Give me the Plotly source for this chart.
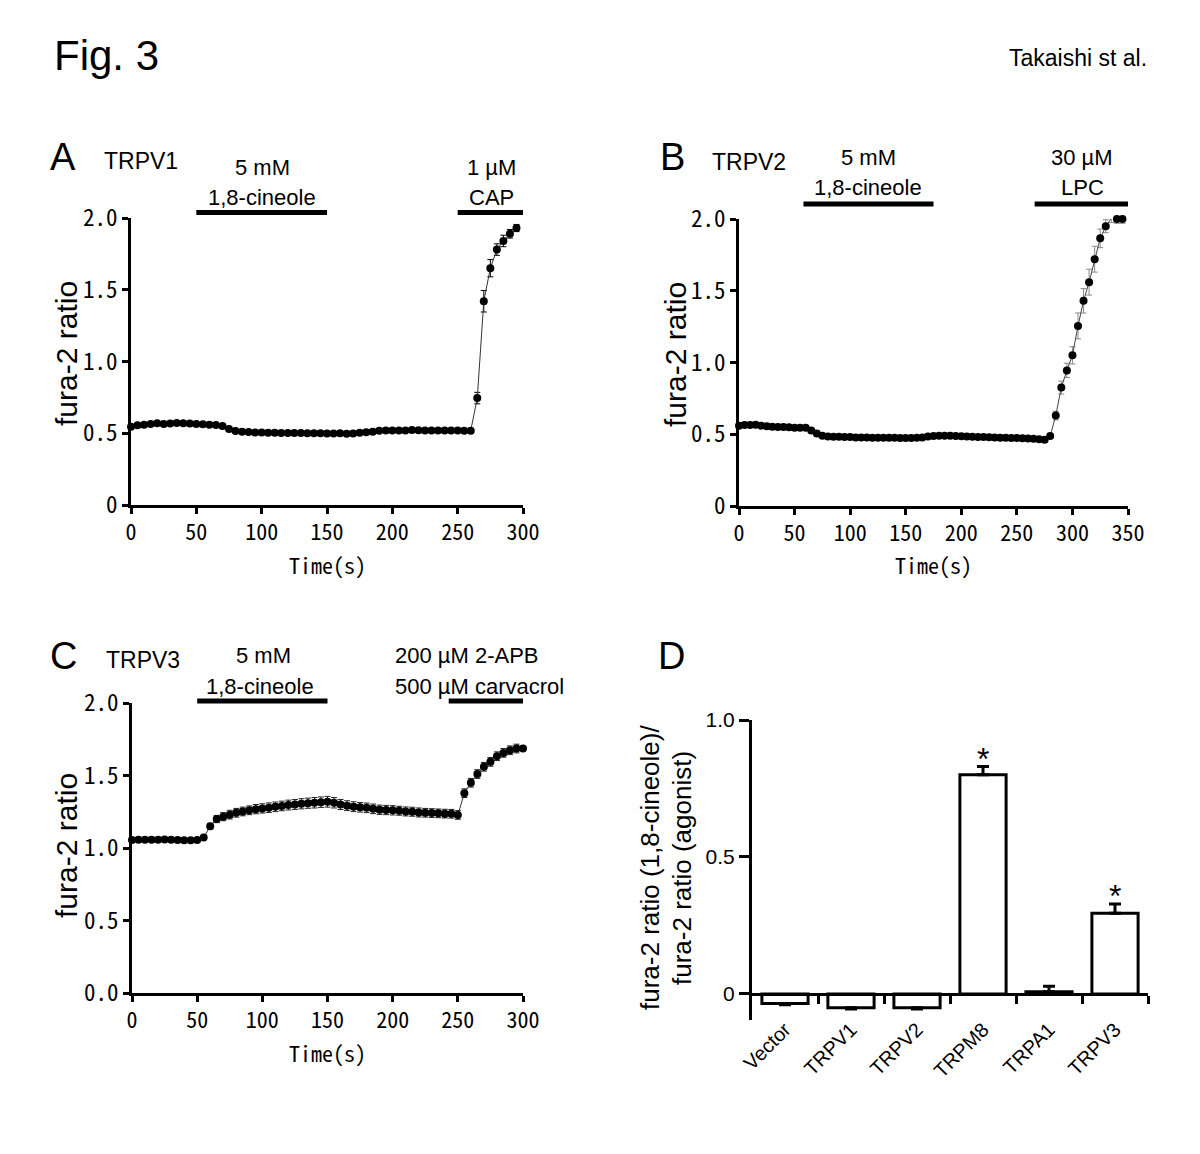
import plotly.graph_objects as go

# ---------------- data ----------------
# Panel A: TRPV1
time_A = [0, 5, 10, 15, 20, 25, 30, 35, 40, 45, 50, 55, 60, 65, 70, 75, 80, 85, 90, 95,
          100, 105, 110, 115, 120, 125, 130, 135, 140, 145, 150, 155, 160, 165, 170, 175, 180, 185, 190, 195,
          200, 205, 210, 215, 220, 225, 230, 235, 240, 245, 250, 255, 260, 265, 270, 275, 280, 285, 290, 295]
ratio_A = [0.545, 0.555, 0.56, 0.565, 0.57, 0.565, 0.568, 0.572, 0.57, 0.568, 0.565, 0.562, 0.56, 0.558, 0.55,
           0.53, 0.515, 0.51, 0.508, 0.506, 0.505, 0.504, 0.503, 0.502, 0.502, 0.502, 0.501, 0.5, 0.5, 0.5,
           0.499, 0.498, 0.5, 0.497, 0.498, 0.503, 0.507, 0.51, 0.517, 0.52, 0.52, 0.52, 0.52, 0.522, 0.521,
           0.52, 0.52, 0.52, 0.52, 0.52, 0.52, 0.518, 0.518, 0.745, 1.42, 1.65, 1.78, 1.84, 1.89, 1.93]
sem_A = [0.005] * 53 + [0.04, 0.075, 0.06, 0.04, 0.04, 0.03, 0.025]

# Panel B: TRPV2
time_B = [0, 5, 10, 15, 20, 25, 30, 35, 40, 45, 50, 55, 60, 65, 70, 75, 80, 85, 90, 95,
          100, 105, 110, 115, 120, 125, 130, 135, 140, 145, 150, 155, 160, 165, 170, 175, 180, 185, 190, 195,
          200, 205, 210, 215, 220, 225, 230, 235, 240, 245, 250, 255, 260, 265, 270, 275, 280, 285, 290, 295,
          300, 305, 310, 315, 320, 325, 330, 335, 340, 345]
ratio_B = [0.56, 0.565, 0.565, 0.567, 0.56, 0.555, 0.553, 0.55, 0.55, 0.548, 0.545, 0.545, 0.545, 0.527, 0.505,
           0.49, 0.484, 0.482, 0.482, 0.481, 0.48, 0.478, 0.478, 0.477, 0.476, 0.476, 0.475, 0.475, 0.475, 0.474,
           0.474, 0.474, 0.475, 0.478, 0.484, 0.488, 0.49, 0.49, 0.49, 0.488, 0.486, 0.484, 0.482, 0.481, 0.48,
           0.479, 0.478, 0.476, 0.475, 0.474, 0.473, 0.472, 0.47, 0.468, 0.465, 0.462, 0.488, 0.63, 0.825, 0.945,
           1.05, 1.255, 1.43, 1.56, 1.72, 1.865, 1.95, 2.005, 2.0, 2.0]
sem_B = [0.005] * 57 + [0.03, 0.045, 0.05, 0.06, 0.09, 0.085, 0.09, 0.09, 0.065, 0.045, 0.03, 0.03, 0.03]

# Panel C: TRPV3
time_C = [0, 5, 10, 15, 20, 25, 30, 35, 40, 45, 50, 55, 60, 65, 70, 75, 80, 85, 90, 95,
          100, 105, 110, 115, 120, 125, 130, 135, 140, 145, 150, 155, 160, 165, 170, 175, 180, 185, 190, 195,
          200, 205, 210, 215, 220, 225, 230, 235, 240, 245, 250, 255, 260, 265, 270, 275, 280, 285, 290, 295, 300]
ratio_C = [1.055, 1.057, 1.057, 1.057, 1.057, 1.058, 1.057, 1.055, 1.054, 1.054, 1.055, 1.072, 1.15, 1.2, 1.216,
           1.23, 1.243, 1.252, 1.26, 1.268, 1.273, 1.278, 1.284, 1.29, 1.296, 1.3, 1.305, 1.309, 1.312, 1.316,
           1.319, 1.312, 1.3, 1.292, 1.285, 1.281, 1.277, 1.27, 1.264, 1.262, 1.26, 1.257, 1.252, 1.25, 1.245,
           1.243, 1.241, 1.239, 1.237, 1.236, 1.228, 1.378, 1.45, 1.51, 1.56, 1.594, 1.633, 1.656, 1.674, 1.686, 1.686]
sem_C = [0.005] * 11 + [0.01, 0.02, 0.025, 0.028, 0.03, 0.03, 0.03, 0.03, 0.032, 0.032, 0.033, 0.033, 0.033,
                        0.034, 0.034, 0.035, 0.035, 0.036, 0.036, 0.037, 0.036, 0.035, 0.034, 0.034, 0.033,
                        0.033, 0.033, 0.032, 0.032, 0.032, 0.031, 0.031, 0.031, 0.031, 0.03, 0.03, 0.03, 0.03,
                        0.03, 0.03, 0.03, 0.03, 0.03, 0.03, 0.03, 0.03, 0.03, 0.03, 0.03]

# Application periods (s)
apply_A = [(50, 150), (250, 300)]
apply_B = [(58, 175), (266, 350)]
apply_C = [(50, 150), (243, 300)]

# Panel D
channels = ["Vector", "TRPV1", "TRPV2", "TRPM8", "TRPA1", "TRPV3"]
ratio_D = [-0.035, -0.05, -0.05, 0.80, 0.008, 0.295]
sem_D = [0.004, 0.005, 0.005, 0.03, 0.02, 0.033]
signif_D = ["", "", "", "*", "", "*"]

# ---------------- layout helpers ----------------
W, H = 1200, 1154
SANS = "Liberation Sans, Arial, sans-serif"
MONO = "Noto Sans Mono CJK JP, DejaVu Sans Mono, monospace"


def fx(p):
    return p / W


def fy(p):
    return 1 - p / H


fig = go.Figure()

panels = [
    (time_A, ratio_A, sem_A, "x", "y", "black", "#333"),
    (time_B, ratio_B, sem_B, "x2", "y2", "#888888", "#444"),
    (time_C, ratio_C, sem_C, "x3", "y3", "#222222", "#333"),
]
for t, v, e, xa, ya, ecol, lcol in panels:
    fig.add_trace(go.Scatter(
        x=t, y=v, mode="lines+markers", xaxis=xa, yaxis=ya,
        line=dict(color=lcol, width=1),
        marker=dict(color="black", size=8),
        error_y=dict(type="data", array=e, color=ecol, thickness=1, width=3),
        cliponaxis=False, showlegend=False, hoverinfo="x+y"))

err_plus = [s if v >= 0 else 0 for v, s in zip(ratio_D, sem_D)]
err_minus = [0 if v >= 0 else s for v, s in zip(ratio_D, sem_D)]
fig.add_trace(go.Bar(
    x=list(range(len(channels))), y=ratio_D, width=0.7, xaxis="x4", yaxis="y4",
    marker=dict(color="white", line=dict(color="black", width=3)),
    error_y=dict(type="data", array=err_plus, arrayminus=err_minus, color="black", thickness=3, width=6),
    showlegend=False, cliponaxis=False))


def xax(dom, rng, tv, anchor):
    return dict(domain=[fx(dom[0]), fx(dom[1])], range=rng, anchor=anchor, automargin=False,
                showline=True, linecolor="black", linewidth=3, mirror=False,
                ticks="outside", ticklen=6, tickwidth=3, tickcolor="black",
                tickvals=tv, tickfont=dict(family=MONO, size=22, color="black"),
                showgrid=False, zeroline=False, fixedrange=True)


def yax(dom, rng, tv, tt, anchor):
    return dict(domain=[fy(dom[1]), fy(dom[0])], range=rng, anchor=anchor, automargin=False,
                showline=True, linecolor="black", linewidth=3,
                ticks="outside", ticklen=6, tickwidth=3, tickcolor="black",
                tickvals=tv, ticktext=tt, tickfont=dict(family=MONO, size=23, color="black"),
                showgrid=False, zeroline=False, fixedrange=True)


yt = [0, 0.5, 1.0, 1.5, 2.0]
fig.update_layout(
    xaxis=xax((131, 523), [0, 300], [0, 50, 100, 150, 200, 250, 300], "y"),
    yaxis=yax((218, 505), [0, 2], yt, ["0", "0.5", "1.0", "1.5", "2.0"], "x"),
    xaxis2=xax((739, 1128), [0, 350], [0, 50, 100, 150, 200, 250, 300, 350], "y2"),
    yaxis2=yax((219, 506), [0, 2], yt, ["0", "0.5", "1.0", "1.5", "2.0"], "x2"),
    xaxis3=xax((132, 523), [0, 300], [0, 50, 100, 150, 200, 250, 300], "y3"),
    yaxis3=yax((703, 993), [0, 2], yt, ["0.0", "0.5", "1.0", "1.5", "2.0"], "x3"),
)

# Panel D axes
d_ymin, d_ymax = -0.095, 1.0
d_top, d_bot = 720, 1020
zero_pos = fy(d_bot) + (0 - d_ymin) / (d_ymax - d_ymin) * (fy(d_top) - fy(d_bot))
fig.update_layout(
    xaxis4=dict(domain=[fx(752), fx(1148)], range=[-0.5, len(channels) - 0.5],
                anchor="free", position=zero_pos, automargin=False,
                showline=True, linecolor="black", linewidth=3,
                tickmode="array", tickvals=list(range(len(channels))), ticktext=channels,
                ticks="", tickangle=-45, ticklabelstandoff=14,
                tickfont=dict(family=SANS, size=20, color="black"),
                minor=dict(tickmode="array", tickvals=[i + 0.5 for i in range(len(channels))],
                           ticks="outside", ticklen=8, tickwidth=3, tickcolor="black", showgrid=False),
                showgrid=False, zeroline=False, fixedrange=True),
    yaxis4=dict(domain=[fy(d_bot), fy(d_top)], range=[d_ymin, d_ymax], anchor="x4", automargin=False,
                showline=True, linecolor="black", linewidth=3,
                ticks="outside", ticklen=10, tickwidth=3, tickcolor="black",
                tickvals=[0, 0.5, 1.0], ticktext=["0", "0.5", "1.0"],
                tickfont=dict(family=SANS, size=21, color="black"),
                showgrid=False, zeroline=False, fixedrange=True),
)

# application bars
shapes = []
for periods, xr, ypx in [(apply_A, "x", 212.5), (apply_B, "x2", 204), (apply_C, "x3", 701)]:
    for a, b in periods:
        shapes.append(dict(type="line", xref=xr, yref="paper", x0=a, x1=b, y0=fy(ypx), y1=fy(ypx),
                           line=dict(color="black", width=5)))
fig.update_layout(shapes=shapes)

ann = []


def txt(x, y, s, size, family=SANS, xanchor="center", angle=0):
    ann.append(dict(x=fx(x), y=fy(y), xref="paper", yref="paper", text=s, showarrow=False,
                    xanchor=xanchor, yanchor="middle", textangle=angle,
                    font=dict(family=family, size=size, color="black")))


txt(52, 55, "Fig. 3", 42, xanchor="left")
txt(1149, 58, "Takaishi st al.", 23, xanchor="right")

# Panel letters and channel names
txt(63, 157, "A", 38)
txt(141, 161, "TRPV1", 23)
txt(672, 157, "B", 38)
txt(749, 162, "TRPV2", 23)
txt(63, 656, "C", 38)
txt(143, 660, "TRPV3", 23)
txt(671, 656, "D", 38)

# Drug labels
txt(262, 167, "5 mM", 22)
txt(262, 197, "1,8-cineole", 22)
txt(491, 167, "1 µM", 22)
txt(491, 197, "CAP", 22)
txt(868, 158, "5 mM", 22)
txt(868, 188, "1,8-cineole", 22)
txt(1082, 158, "30 µM", 22)
txt(1082, 188, "LPC", 22)
txt(263, 655, "5 mM", 22)
txt(260, 686, "1,8-cineole", 22)
txt(393, 655, "200 µM 2-APB", 22, xanchor="left")
txt(393, 686, "500 µM carvacrol", 22, xanchor="left")

# Axis titles
txt(66, 354, "fura-2 ratio", 30, angle=-90)
txt(675, 355, "fura-2 ratio", 30, angle=-90)
txt(66, 846, "fura-2 ratio", 30, angle=-90)
txt(650, 868, "fura-2 ratio (1,8-cineole)/", 26, angle=-90)
txt(682, 868, "fura-2 ratio (agonist)", 26, angle=-90)
txt(327, 564, "Time(s)", 22, family=MONO)
txt(933, 564, "Time(s)", 22, family=MONO)
txt(327, 1052, "Time(s)", 22, family=MONO)

# significance asterisks
for i, (v, s, m) in enumerate(zip(ratio_D, sem_D, signif_D)):
    if m:
        ann.append(dict(x=i, y=v + s, xref="x4", yref="y4", text=m, showarrow=False,
                        yanchor="middle", yshift=8, font=dict(family=SANS, size=32, color="black")))

fig.update_layout(annotations=ann, width=W, height=H,
                  margin=dict(l=0, r=0, t=0, b=0, autoexpand=False),
                  paper_bgcolor="white", plot_bgcolor="white",
                  showlegend=False)

fig.write_html("out.html", config={"displayModeBar": False},
               post_script="document.body.style.margin='0';")
